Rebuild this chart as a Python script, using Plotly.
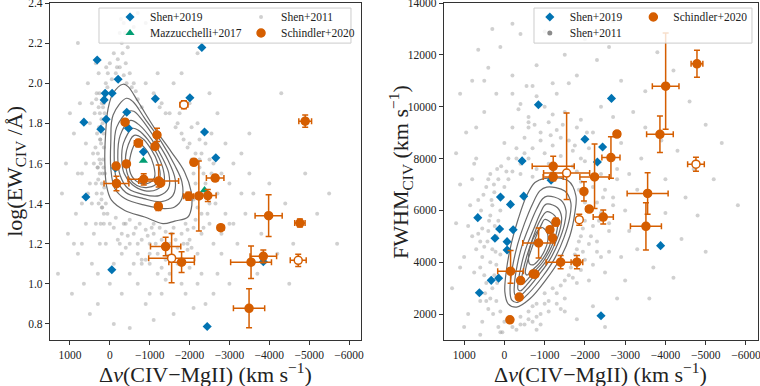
import plotly.graph_objects as go

# ---------------- data ----------------
# Shen+2019 (blue diamonds)
shen19_dv_l = [317, -208, 117, -58, 142, -1142, -2008, -2308, -425, 650, 92, 225,
               -467, -2375, -842, -2658, -142, 600, -50, -2442, -3850]
shen19_ew = [2.116, 2.02, 1.95, 1.95, 1.917, 1.923, 1.928, 2.178, 1.855, 1.806, 1.82, 1.771,
             1.776, 1.757, 1.658, 1.628, 1.578, 1.433, 1.07, 0.787, 1.11]
shen19_dv_r = [-845, -2660, -2000, -2440, -2310, -440, -1160, 97, -480, -151, 661, 118,
               -218, 234, -67, -67, 327, 143, 621, -2400, -3880]
shen19_fwhm = [10077, 10319, 8742, 8446, 7869, 7908, 7166, 6512, 6550, 6231, 5720, 5281,
               5254, 4923, 4793, 4474, 3302, 3385, 2820, 1935, 4640]

# Mazzucchelli+2017 (green triangles)
mazz_dv = [-842, -2375]
mazz_ew = [1.613, 1.468]

# Schindler+2020, left panel (filled)
sch_dv_l = [-383, -717, -1183, -1133, -158, -417, -167, -850, -1225, -1275, -1217, -2108,
            -2642, -1975, -2233, -2458, -3983, -4900, -4767, -2783, -1400, -1800, -3542,
            -3850, -3492]
sch_ew = [1.806, 1.702, 1.742, 1.685, 1.587, 1.598, 1.50, 1.521, 1.513, 1.503, 1.386, 1.606,
          1.527, 1.437, 1.438, 1.44, 1.34, 1.811, 1.303, 1.28, 1.186, 1.108, 1.108,
          1.137, 0.878]
sch_dv_err_l = [60, 100, 80, 50, 50, 60, 312, 394, 500, 60, 80, 70,
                220, 125, 80, 208, 340, 160, 130, 80, 380, 320, 512,
                333, 392]
sch_ew_up = [0.012, 0.018, 0.033, 0.012, 0.012, 0.012, 0.036, 0.028, 0.08, 0.012, 0.02, 0.015,
             0.015, 0.02, 0.174, 0.03, 0.104, 0.031, 0.02, 0.01, 0.046, 0.052, 0.081,
             0.032, 0.097]
sch_ew_lo = [0.012, 0.018, 0.033, 0.012, 0.012, 0.012, 0.036, 0.028, 0.03, 0.012, 0.02, 0.015,
             0.015, 0.02, 0.174, 0.03, 0.104, 0.031, 0.02, 0.01, 0.046, 0.052, 0.081,
             0.032, 0.097]
# Schindler+2020, left panel (open)
sch_open_dv_l = [-1858, -1550, -4725]
sch_open_ew = [1.893, 1.128, 1.117]
sch_open_dv_err_l = [100, 575, 200]
sch_open_ew_err = [0.02, 0.123, 0.03]

# Schindler+2020, right panel (filled)
sch_dv_r = [-4784, -4006, -3864, -2796, -2647, -1213, -1213, -2240, -3558, -3516, -1976,
            -2108, -2456, -1280, -1131, -1197, -850, -1397, -1802, -716, -760, -154,
            -403, -368, -137]
sch_fwhm = [11654, 10793, 8935, 8946, 8038, 7700, 7292, 7292, 6654, 5385, 6731,
            6050, 5743, 5550, 5254, 4935, 4742, 4000, 4000, 3550, 3540, 3654,
            3292, 2654, 1780]
sch_dv_err_r = [146, 331, 331, 80, 225, 522, 250, 365, 509, 385, 60,
                80, 250, 60, 60, 60, 394, 360, 145, 60, 60, 320,
                50, 50, 50]
sch_fwhm_up = [519, 2054, 705, 60, 800, 385, 150, 1270, 800, 910, 372,
               60, 270, 150, 100, 100, 577, 256, 256, 60, 60, 795,
               60, 60, 60]
sch_fwhm_lo = [519, 1666, 705, 60, 800, 385, 150, 1215, 800, 910, 372,
               60, 270, 150, 100, 100, 577, 256, 256, 60, 60, 461,
               60, 60, 60]
# Schindler+2020, right panel (open)
sch_open_dv_r = [-4759, -1546, -1860]
sch_open_fwhm = [7781, 7440, 5640]
sch_open_dv_err_r = [207, 572, 60]
sch_open_fwhm_up = [270, 2320, 210]
sch_open_fwhm_lo = [270, 1016, 210]

# Shen+2011 background sample (points outside the outer contour), left panel
cloud_dv_l = [1300, 1200, 1100, 1050, 950, 900, 850, 800, 750, 700, 650, 600, 550, 500, 450, 400,
              350, 300, 250, -100, -300, -500, -700, -900, -1100, -1300, -1600, -1900, -2100,
              -2300, -2600, -2800, -3000, -3200, -3400, -3600, -3800, -4000, -4200, -4400, -4600,
              -4900, -5200, -5500, -5700, -3100, -2700, -2500, -3500, -4300, -1500, -1800, -2200,
              -900, -600, -3700, -2400, -1500, -1000, -4500, 1000, 800, 600, 700, 500, 900,
              150, 200, 250, 300, 220, 180, 250, 150, 100, 50, 0, -100, -200, -300, -250, -150,
              -400, -500, -600, -450, 170, 200, 160, 280, 350, 320, 120, 60, -50, 230, 210, 140,
              180, 260, 380, 420, 450, 150, 400, 330, 280, 240, 300, 350, 200, 90, -700, -350,
              0, -100, -200, -300, -400, -500, -600, -700, -800, -900, -1000, -1100, -1200,
              -1300, -1400, -1500, -1600, -1700, -1800, -1900, -2000, -2100, -600, -900, -1300,
              -1700, -300, -2200, -500, -1100, -800, -1450, -1950, -250,
              -2100, -2200, -2300, -2150, -2000, -1800, -1700, -1500, -1300, -1100, -900,
              -2400, -2500, -2600, -2700, -2400, -2200, -2000, -1600, -1200, -2900, -2800,
              -3000, -2300, -2600, -2250, -2350, -2500, -1950, -1400, -3300, -3100, -2550,
              330, 290, 260, 240, 210, 170, 130, 150, 160, 190, 230, 100, 60, 270, 310, 360, 200,
              280, 340, 120, -250, -350, -180, -320, -420, -550, -650, -280, -380, -700, -800,
              -2150, -2250, -2100, -2200, -2350, -2050, -1950, -1850, -1650, -1400, -1250, -2300,
              -2450, -2550, -2050, -1750, -2250, -2650, -2500, -2350,
              -150, -350, -450, -650, -750, -950, -1050, -1150, -1250, -1350, -1550, -1650, -1850,
              -1950, -2050, -2150, -400, -800, -1200, -1600, -2000, -1000, -700, -1400,
              600, 500, 700, 450, 550, 800, -2900, -3300, -3500, -2800, -3000, -2700, -2200,
              -1800, -1000, -500, -100, 100, 0, 300]
cloud_ew_l = [1.05, 1.45, 1.6, 1.25, 0.95, 1.75, 1.35, 1.15, 1.9, 1.55, 1.0, 1.3, 2.0, 0.85, 1.1, 1.6,
              2.1, 0.9, 1.2, 0.8, 0.95, 0.78, 1.0, 0.9, 0.82, 0.95, 0.85, 0.95, 0.88,
              1.05, 0.95, 1.15, 1.0, 1.2, 1.35, 1.45, 1.25, 1.5, 1.15, 1.4, 1.2,
              1.55, 1.35, 1.45, 1.2, 1.6, 1.85, 1.95, 1.75, 1.95, 2.25, 2.05, 2.15,
              2.3, 2.28, 1.05, 0.9, 1.05, 1.1, 1.0, 1.85, 2.2, 1.7, 1.4, 1.5, 1.2,
              1.35, 1.45, 1.55, 1.65, 1.7, 1.8, 1.85, 1.9, 2.0, 2.05, 2.1, 2.15, 2.12, 2.2, 2.25, 2.05,
              2.1, 2.05, 2.0, 2.18, 1.62, 1.5, 1.75, 1.4, 1.5, 1.75, 1.95, 1.98, 2.02, 1.6, 1.42, 1.48,
              1.55, 1.95, 1.85, 1.65, 1.4, 1.3, 1.25, 1.95, 2.05, 1.72, 1.58, 1.3, 1.38, 2.08, 2.35, 2.3,
              1.3, 1.28, 1.22, 1.25, 1.3, 1.2, 1.25, 1.15, 1.22, 1.27, 1.2, 1.25, 1.15,
              1.22, 1.26, 1.2, 1.28, 1.18, 1.25, 1.3, 1.22, 1.28, 1.1, 1.12, 1.08,
              1.1, 1.15, 1.15, 1.32, 1.3, 1.12, 1.14, 1.17, 1.2,
              1.55, 1.45, 1.35, 1.65, 1.7, 1.75, 1.8, 1.85, 1.9, 1.95, 2.0,
              1.5, 1.3, 1.6, 1.45, 1.7, 1.8, 1.9, 2.0, 2.05, 1.35, 1.55,
              1.5, 1.25, 1.2, 1.62, 1.55, 1.4, 1.2, 1.02, 1.65, 1.3, 1.75,
              1.45, 1.52, 1.62, 1.72, 1.82, 1.88, 1.85, 1.68, 1.58, 1.38, 1.3, 1.4, 1.35, 1.78, 1.58,
              1.68, 1.9, 1.88, 1.92, 1.55, 2.08, 2.04, 2.08, 2.15, 2.0, 1.98, 1.96, 2.32, 2.25, 1.92,
              1.88, 1.5, 1.58, 1.42, 1.38, 1.45, 1.62, 1.68, 1.72, 1.78, 1.85, 1.88, 1.65,
              1.35, 1.55, 1.78, 1.85, 1.72, 1.4, 1.62, 1.28,
              1.33, 1.3, 1.24, 1.28, 1.3, 1.24, 1.28, 1.2, 1.28, 1.18, 1.25, 1.22, 1.2,
              1.27, 1.18, 1.32, 1.18, 1.1, 1.05, 1.12, 1.08, 1.15, 1.2, 1.12,
              1.6, 1.8, 1.2, 1.9, 1.45, 1.55, 1.7, 1.45, 1.55, 1.25, 1.3, 1.05, 1.0,
              1.0, 0.95, 1.05, 1.1, 1.2, 1.0, 1.05]

# Shen+2011 background sample, right panel
cloud_dv_r = [1300, 1200, 1100, 1000, 950, 900, 850, 800, 750, 700, 650, 600, 550, 500, 450, 400,
              350, 300, 200, 100, 0, -200, -400, -600, -800, -1000, -1200, -1500, -1800, -2000,
              -2300, -2600, -2900, -3200, -3500, -3800, -4200, -4600, -5000, -5400, -5800, -5200,
              -4800, -4400, -4000, -3700, -3300, -3000, -2800, -2600, -3100, -2900, -3400, -4000,
              -4500, -3600, -2200, -1800, -1500, -2500, -4200, -5000, 1000, 600,
              200, 300, 250, 350, 300, 200, 400, 150, 100, 300, 50, 0, -100, 450, 500, 350, 250,
              150, 400, 100, 200, 450, 600, 550, 700, 650, 800, 750,
              -200, -400, -600, -800, -1000, -1200, -1400, -300, -500, -700, -900, -1100, -1300,
              -1600, -1800, -1500, -200, -600, -1000, -1700, -1900, -2100, -800, -400, -1300,
              -100, -350, -750, -1150, -1450, -1750, -2050, -550,
              -1900, -2000, -2100, -2000, -1900, -1800, -1700, -1600, -1400, -2200, -2300, -2200,
              -2100, -2000, -1900, -2400, -2500, -2400, -2300, -1800, -2600, -2700, -2800, -2500,
              -200, -400, -600, -800, -1000, -1200, -500, -900, -1100, -300, 0, -700, 100, -1400,
              550, 500, 480, 420, 380, 320, 260, 180, 80, -50, 580, 520, 350, 280, 150, 50, 650,
              600, 400, 220, 180, 240, 100,
              -400, -700, -1200, -1500, -1800, -1100, -500, -1400, -900, -300, -1700, -2000, -600,
              -1200, -1900, -2200, -700, -1600, -200, -2400,
              -1850, -2000, -1950, -1850, -1750, -1650, -1500, -1300, -2150, -2300, -2200, -2100,
              -2400, -2600, -2700, -2800, -2450, -2350, -1950, -1700,
              -1000, -1100, -800, -600, -400, -900, -1300, -1500, -700, -200,
              -3000, -3300, -3500, -2700, -3900, -4300, -3100, -2900, -4700, -800, 1100, 1200, 900,
              800, 700, 1100, 500, -200, -2700]
cloud_fwhm = [3000, 5500, 7000, 4200, 9000, 2000, 6200, 11000, 3600, 8000, 12200, 4800, 1700, 9800,
              2500, 11500, 7400, 13000, 10500, 12300, 8600, 11200, 12800, 9400, 11600, 12900, 10900,
              12000, 11200, 12600, 11800, 12300, 11000, 9800, 10600, 12100, 11400, 10200, 9300, 8600,
              6200, 7200, 5800, 4900, 5900, 3800, 4500, 3300, 2600, 4400, 7400, 8600, 8000, 7200,
              6500, 2600, 2300, 1800, 2600, 1500, 3400, 4400, 1500, 1200,
              2500, 3000, 3500, 4000, 4500, 5000, 5200, 5600, 6000, 6200, 6500, 6900, 7200, 3200,
              4600, 5800, 6700, 7200, 2200, 2100, 3900, 6900, 3800, 5300, 4500, 6400, 5000, 7800,
              7500, 7800, 8000, 7600, 8200, 8500, 8100, 8400, 8800, 8400, 9000, 9400, 9100,
              8700, 9200, 9800, 9200, 9600, 10000, 7700, 8000, 8400, 10400, 10100, 10500,
              8000, 9900, 9300, 8900, 9300, 8500, 9000, 10800,
              7100, 6600, 6100, 5600, 5000, 4500, 4000, 3500, 3100, 6900, 6300, 5400,
              4700, 4100, 3700, 5900, 6800, 7400, 4400, 3200, 5200, 6200, 7600, 3600,
              1800, 1900, 2100, 2400, 2800, 3000, 1600, 2000, 2500, 1400, 1700, 1700, 1300, 2200,
              4200, 3500, 2800, 4800, 5600, 6400, 7000, 7600, 7700, 7500, 6000, 6600, 2600, 2000,
              1500, 1300, 5100, 2500, 7200, 4400, 3200, 5400, 4300,
              7400, 7300, 7500, 7500, 7500, 7800, 8200, 8800, 8700, 8000, 8300, 7900, 9200,
              9700, 9500, 9000, 10800, 10900, 10500, 10000,
              6800, 6300, 5300, 4800, 4300, 3800, 3300, 2800, 5000, 4800, 3900, 3300,
              4200, 5500, 6500, 7200, 6500, 5600, 4400, 3400,
              2400, 2100, 1900, 1800, 1600, 1600, 2400, 2100, 2300, 1500,
              6000, 6800, 9200, 9600, 8700, 8300, 5200, 4200, 7600, 1400, 3800, 8200, 5400,
              7200, 9200, 10500, 11000, 13200, 13300]

# KDE contour levels of Shen+2011, left panel (outer -> inner)
cont_dv_l = [
    [-333, -83, 42, 108, 125, 83, -42, -375, -875, -1333, -1625, -1958, -2058, -2042, -1875,
     -1542, -1125, -708, -458, -333],
    [-417, -83, -25, -25, -125, -375, -875, -1375, -1625, -1808, -1808, -1625, -1292, -875,
     -583, -417],
    [-470, -170, -110, -160, -400, -850, -1300, -1580, -1640, -1450, -1150, -800, -600, -470],
    [-520, -260, -200, -260, -460, -850, -1240, -1470, -1480, -1300, -1050, -750, -520],
    [-570, -340, -300, -360, -560, -860, -1180, -1360, -1340, -1180, -950, -720, -570],
    [-610, -420, -400, -480, -680, -920, -1150, -1260, -1210, -1040, -820, -610],
    [-650, -500, -520, -720, -950, -1120, -1100, -960, -780, -650],
]
cont_ew_l = [
    [1.995, 1.95, 1.875, 1.74, 1.608, 1.49, 1.417, 1.366, 1.333, 1.30, 1.313, 1.333, 1.392,
     1.458, 1.558, 1.658, 1.775, 1.908, 1.983, 1.995],
    [1.925, 1.842, 1.708, 1.575, 1.475, 1.425, 1.392, 1.375, 1.383, 1.425, 1.508, 1.592, 1.708,
     1.825, 1.908, 1.925],
    [1.86, 1.78, 1.65, 1.53, 1.455, 1.425, 1.41, 1.44, 1.52, 1.62, 1.72, 1.82, 1.86, 1.86],
    [1.815, 1.74, 1.63, 1.54, 1.475, 1.445, 1.44, 1.475, 1.55, 1.635, 1.72, 1.79, 1.815],
    [1.775, 1.70, 1.62, 1.55, 1.495, 1.465, 1.47, 1.51, 1.57, 1.65, 1.72, 1.765, 1.775],
    [1.74, 1.665, 1.59, 1.53, 1.49, 1.48, 1.495, 1.535, 1.60, 1.67, 1.725, 1.74],
    [1.70, 1.62, 1.55, 1.505, 1.50, 1.53, 1.59, 1.655, 1.695, 1.70],
]
# KDE contour levels, right panel
cont_dv_r = [
    [-1006, -1585, -1777, -1752, -1628, -1379, -1049, -634, -303, -94, -12, -55, -179, -343,
     -552, -758, -1006],
    [-1050, -1500, -1650, -1620, -1480, -1250, -950, -600, -330, -180, -140, -200, -330, -500,
     -700, -880, -1050],
    [-1070, -1400, -1530, -1490, -1350, -1130, -850, -560, -360, -260, -250, -320, -450, -620,
     -800, -950, -1070],
    [-1080, -1320, -1420, -1380, -1240, -1040, -780, -540, -400, -340, -350, -430, -560, -720,
     -880, -1000, -1080],
    [-1060, -1250, -1320, -1270, -1140, -950, -720, -540, -440, -420, -460, -560, -700, -850,
     -980, -1060],
    [-1000, -1170, -1210, -1160, -1040, -860, -680, -560, -520, -560, -660, -790, -920, -1000],
    [-920, -1060, -1080, -1000, -860, -720, -620, -600, -660, -780, -920],
]
cont_fwhm_r = [
    [7231, 7139, 6562, 5923, 5023, 4127, 3358, 2589, 2270, 2397, 2846, 3743, 4770, 5666, 6562,
     7077, 7231],
    [6900, 6750, 6300, 5700, 4950, 4150, 3450, 2800, 2450, 2550, 3000, 3800, 4700, 5500, 6250,
     6750, 6900],
    [6550, 6400, 6000, 5450, 4800, 4100, 3500, 2950, 2680, 2750, 3150, 3900, 4700, 5400, 6050,
     6450, 6550],
    [6250, 6100, 5750, 5250, 4650, 4050, 3550, 3100, 2900, 2950, 3300, 3950, 4650, 5250, 5850,
     6200, 6250],
    [5950, 5800, 5450, 5000, 4500, 4000, 3600, 3280, 3150, 3250, 3650, 4250, 4900, 5500, 5850,
     5950],
    [5650, 5500, 5200, 4800, 4350, 3950, 3680, 3500, 3600, 3950, 4450, 5000, 5450, 5650],
    [5350, 5150, 4850, 4450, 4100, 3900, 3950, 4250, 4700, 5100, 5350],
]

x_ticks = [1000, 0, -1000, -2000, -3000, -4000, -5000, -6000]

BLUE = "#0173b2"
GREEN = "#029e73"
ORANGE = "#d55e00"
GREY = "rgba(150,150,150,0.45)"
FONT = "Liberation Serif"

fig = go.Figure()


def add_cloud(dv, val, xa, ya, legend, show):
    fig.add_trace(go.Scatter(x=dv, y=val, mode="markers", xaxis=xa, yaxis=ya,
                             marker=dict(size=4, color=GREY), name="Shen+2011",
                             legend=legend, legendrank=2, showlegend=show))


def add_contours(dvs, vals, xa, ya):
    for dv, val in zip(dvs, vals):
        fig.add_trace(go.Scatter(x=dv, y=val, mode="lines", xaxis=xa, yaxis=ya,
                                 line=dict(color="#6a6a6a", width=1.2, shape="spline"),
                                 showlegend=False, hoverinfo="skip"))


def add_schindler(dv, val, dverr, up, lo, xa, ya, filled, legend=None, show=False):
    fig.add_trace(go.Scatter(
        x=dv, y=val, mode="markers", xaxis=xa, yaxis=ya, name="Schindler+2020",
        marker=dict(size=8, color=ORANGE if filled else "white",
                    line=dict(color=ORANGE, width=1.5)),
        error_x=dict(type="data", array=dverr, color=ORANGE, thickness=1.5, width=3),
        error_y=dict(type="data", array=up, arrayminus=lo, color=ORANGE, thickness=1.5, width=3),
        legend=legend, legendrank=2, showlegend=show))


# left panel: legend = first row, legend2 = second row
add_cloud(cloud_dv_l, cloud_ew_l, "x", "y", "legend", True)
add_contours(cont_dv_l, cont_ew_l, "x", "y")
fig.add_trace(go.Scatter(x=shen19_dv_l, y=shen19_ew, mode="markers", name="Shen+2019",
                         marker=dict(symbol="diamond", size=7, color=BLUE), legendrank=1,
                         legend="legend", xaxis="x", yaxis="y"))
fig.add_trace(go.Scatter(x=mazz_dv, y=mazz_ew, mode="markers", name="Mazzucchelli+2017",
                         marker=dict(symbol="triangle-up", size=8, color=GREEN), legendrank=1,
                         legend="legend2", xaxis="x", yaxis="y"))
add_schindler(sch_dv_l, sch_ew, sch_dv_err_l, sch_ew_up, sch_ew_lo, "x", "y", True,
              "legend2", True)
add_schindler(sch_open_dv_l, sch_open_ew, sch_open_dv_err_l, sch_open_ew_err, sch_open_ew_err,
              "x", "y", False)

# right panel: legend3 / legend4 = first column, legend5 = second column
add_cloud(cloud_dv_r, cloud_fwhm, "x2", "y2", "legend4", False)
add_contours(cont_dv_r, cont_fwhm_r, "x2", "y2")
fig.add_trace(go.Scatter(x=shen19_dv_r, y=shen19_fwhm, mode="markers", name="Shen+2019",
                         marker=dict(symbol="diamond", size=7, color=BLUE),
                         legend="legend3", xaxis="x2", yaxis="y2"))
fig.add_trace(go.Scatter(x=[None], y=[None], mode="markers", name="Shen+2011",
                         marker=dict(size=5, color="rgba(110,110,110,0.8)"),
                         legend="legend4", xaxis="x2", yaxis="y2"))
add_schindler(sch_dv_r, sch_fwhm, sch_dv_err_r, sch_fwhm_up, sch_fwhm_lo, "x2", "y2", True,
              "legend5", True)
add_schindler(sch_open_dv_r, sch_open_fwhm, sch_open_dv_err_r, sch_open_fwhm_up,
              sch_open_fwhm_lo, "x2", "y2", False)

axis_common = dict(showgrid=False, zeroline=False, showline=True, mirror=True, automargin=False,
                   linecolor="#333333", linewidth=1.2, ticks="outside", ticklen=4,
                   tickcolor="#333333", ticklabeloverflow="allow",
                   tickfont=dict(family=FONT, size=11.5, color="#222222"))
xtick_text = [str(v).replace("-", "\u2212") for v in x_ticks]


def row_legend(x, y, entrywidth=None, xanchor="left"):
    leg = dict(x=x, y=y, xanchor=xanchor, yanchor="middle", orientation="h", itemwidth=30,
               bgcolor="rgba(0,0,0,0)", borderwidth=0,
               font=dict(family=FONT, size=11.5, color="#222222"))
    if entrywidth:
        leg.update(entrywidth=entrywidth, entrywidthmode="pixels")
    return leg


fig.update_layout(
    width=760, height=386,
    margin=dict(l=50, r=2, t=3, b=46),
    plot_bgcolor="white", paper_bgcolor="white",
    font=dict(family=FONT),
    xaxis=dict(domain=[0, 0.4393], range=[1500, -6300], tickvals=x_ticks, ticktext=xtick_text,
               **axis_common),
    yaxis=dict(domain=[0, 1], range=[0.72, 2.4], tickvals=[0.8, 1.0, 1.2, 1.4, 1.6, 1.8, 2.0, 2.2, 2.4],
               tickformat=".1f", **axis_common),
    xaxis2=dict(domain=[0.5565, 1], range=[1500, -6300], tickvals=x_ticks, ticktext=xtick_text,
                anchor="y2", **axis_common),
    yaxis2=dict(domain=[0, 1], range=[1000, 14000], anchor="x2", tickformat="d",
                tickvals=[2000, 4000, 6000, 8000, 10000, 12000, 14000], **axis_common),
    legend=row_legend(0.0848, 0.9585, 86),
    legend2=row_legend(0.0848, 0.911, 86),
    legend3=row_legend(0.6777, 0.9585),
    legend4=row_legend(0.6777, 0.911),
    legend5=row_legend(0.992, 0.9585, xanchor="right"),
    shapes=[
        dict(type="rect", xref="paper", yref="paper", x0=0.0692, x1=0.4251, y0=0.881, y1=0.985,
             line=dict(color="#cccccc", width=1), fillcolor="rgba(255,255,255,0.8)", layer="above"),
        dict(type="rect", xref="paper", yref="paper", x0=0.6836, x1=0.9915, y0=0.881, y1=0.985,
             line=dict(color="#cccccc", width=1), fillcolor="rgba(255,255,255,0.8)", layer="above"),
    ],
    annotations=[
        dict(text="\u0394<i>v</i>(CIV\u2212MgII) (km s<sup>\u22121</sup>)", xref="paper",
             yref="paper", x=0.2196, y=-0.097, xanchor="center", yanchor="middle",
             showarrow=False, font=dict(family=FONT, size=22, color="#222222")),
        dict(text="\u0394<i>v</i>(CIV\u2212MgII) (km s<sup>\u22121</sup>)", xref="paper",
             yref="paper", x=0.778, y=-0.097, xanchor="center", yanchor="middle",
             showarrow=False, font=dict(family=FONT, size=22, color="#222222")),
        dict(text="log(EW<sub>CIV</sub> /\u00c5)", xref="paper", yref="paper", x=-0.049, y=0.5,
             xanchor="center", yanchor="middle", textangle=-90, showarrow=False,
             font=dict(family=FONT, size=22, color="#222222")),
        dict(text="FWHM<sub>CIV</sub> (km s<sup>\u22121</sup>)", xref="paper", yref="paper",
             x=0.495, y=0.5, xanchor="center", yanchor="middle", textangle=-90,
             showarrow=False, font=dict(family=FONT, size=22, color="#222222")),
    ],
)

# drop the default page margin so the 760x386 figure fills the window exactly
fig.write_html("out.html", config={"displayModeBar": False},
               post_script="document.body.style.margin='0';")
